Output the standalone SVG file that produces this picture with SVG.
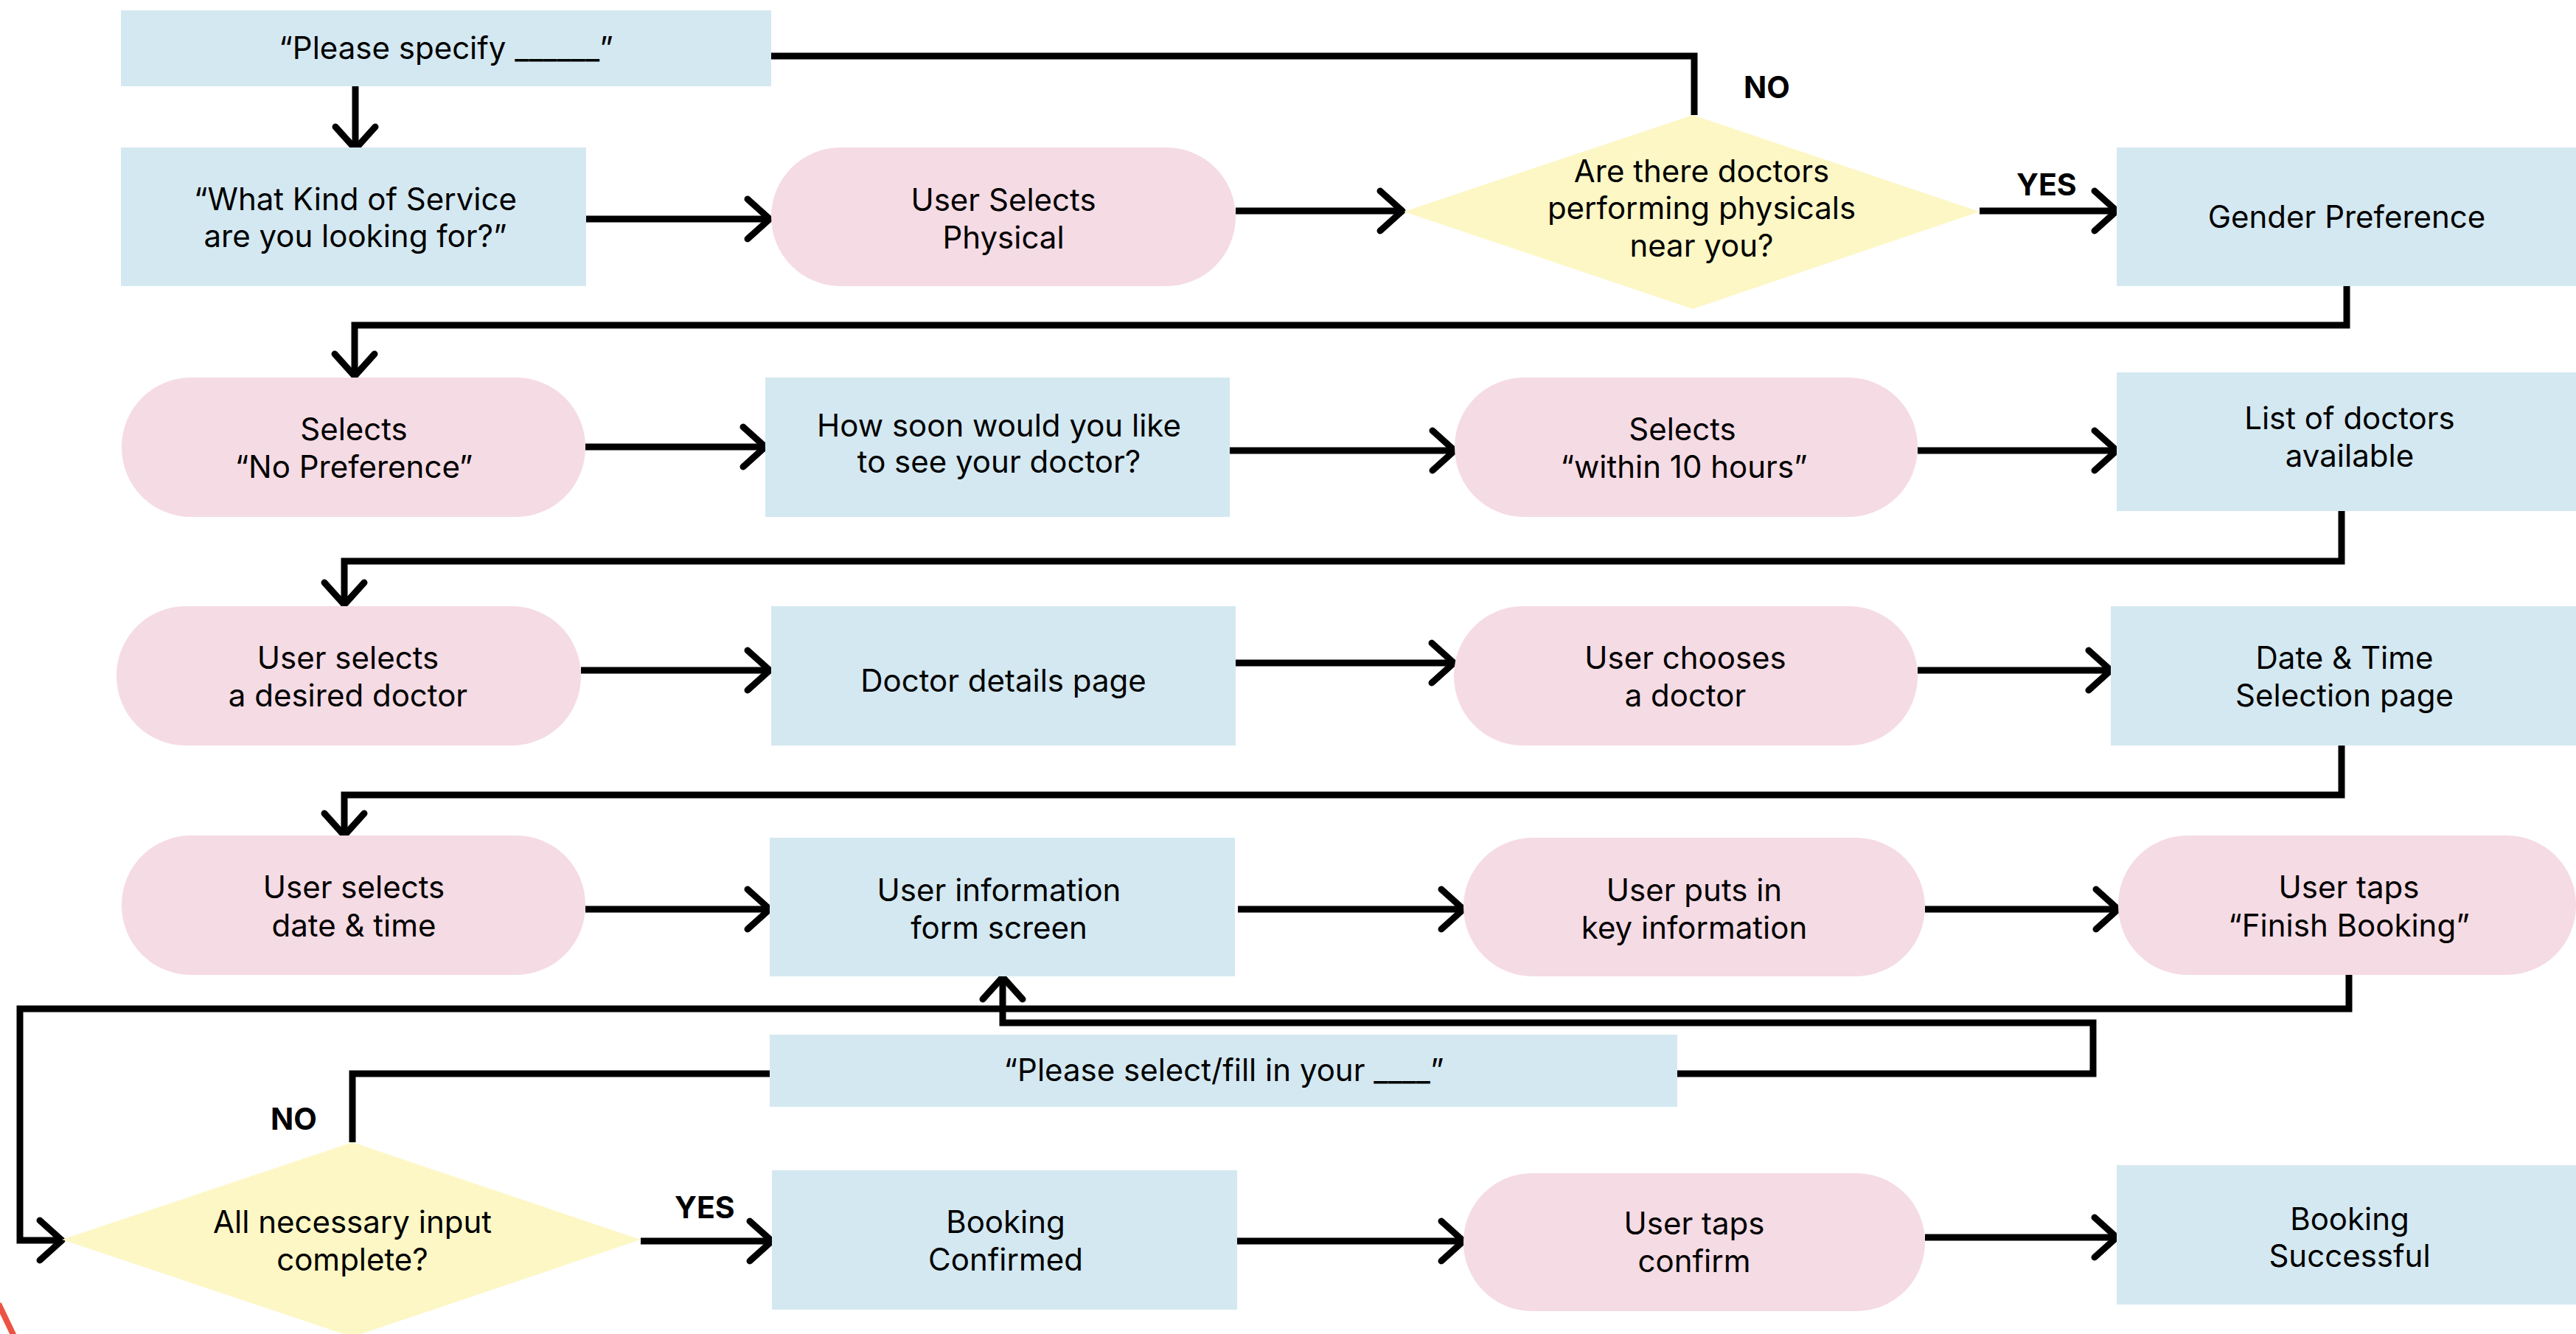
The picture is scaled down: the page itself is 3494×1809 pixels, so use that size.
<svg xmlns="http://www.w3.org/2000/svg" width="3494" height="1809" viewBox="0 0 3494 1809">
<defs>
<style>
.box{fill:#D4E8F1}
.pill{fill:#F5DBE4}
.dec{fill:#FCF7C5}
.t{font-family:Inter,"Liberation Sans",sans-serif;font-size:42px;fill:#000;text-anchor:middle}
.lbl{font-family:Inter,"Liberation Sans",sans-serif;font-size:41px;font-weight:700;fill:#000}
.c{fill:none;stroke:#000;stroke-width:9;stroke-linejoin:miter}
</style>
<marker id="ah" markerUnits="userSpaceOnUse" viewBox="-40 -40 50 80" markerWidth="50" markerHeight="80" refX="0" refY="0" orient="auto" overflow="visible">
<path d="M-30,-27 L0,0 L-30,27" fill="none" stroke="#000" stroke-width="9" stroke-linecap="round" stroke-linejoin="round"/>
</marker>
</defs>
<rect width="3494" height="1809" fill="#fff"/>

<g id="connectors">
<path class="c" d="M482,117 V202" marker-end="url(#ah)"/>
<path class="c" d="M2298,156 V76 H1046"/>
<path class="c" d="M795,297 H1044" marker-end="url(#ah)"/>
<path class="c" d="M1676,286 H1902" marker-end="url(#ah)"/>
<path class="c" d="M2685,286 H2871" marker-end="url(#ah)"/>
<path class="c" d="M3183,388 V441 H481 V510" marker-end="url(#ah)"/>
<path class="c" d="M794,606 H1038" marker-end="url(#ah)"/>
<path class="c" d="M1668,611 H1973" marker-end="url(#ah)"/>
<path class="c" d="M2601,611 H2871" marker-end="url(#ah)"/>
<path class="c" d="M3176,693 V761 H467 V820" marker-end="url(#ah)"/>
<path class="c" d="M788,909 H1044" marker-end="url(#ah)"/>
<path class="c" d="M1676,899 H1972" marker-end="url(#ah)"/>
<path class="c" d="M2601,909 H2863" marker-end="url(#ah)"/>
<path class="c" d="M3176,1011 V1078 H467 V1133" marker-end="url(#ah)"/>
<path class="c" d="M794,1233 H1044" marker-end="url(#ah)"/>
<path class="c" d="M1679,1233 H1985" marker-end="url(#ah)"/>
<path class="c" d="M2611,1233 H2873" marker-end="url(#ah)"/>
<path class="c" d="M3186,1322 V1368 H27 V1682 H84" marker-end="url(#ah)"/>
<path class="c" d="M478,1549 V1456 H1044"/>
<path class="c" d="M2275,1456 H2839 V1387 H1360 V1325" marker-end="url(#ah)"/>
<path class="c" d="M869,1683 H1047" marker-end="url(#ah)"/>
<path class="c" d="M1678,1683 H1985" marker-end="url(#ah)"/>
<path class="c" d="M2611,1678 H2871" marker-end="url(#ah)"/>
<text class="lbl" x="2365" y="133">NO</text>
<text class="lbl" x="2735" y="265">YES</text>
<text class="lbl" x="367" y="1532">NO</text>
<text class="lbl" x="915" y="1652">YES</text>
</g>

<g id="n-please-specify">
<rect class="box" x="164" y="14" width="882" height="103"/>
<text class="t" x="605" y="80">“Please specify ______”</text>
</g>
<g id="n-what-kind">
<rect class="box" x="164" y="200" width="631" height="188"/>
<text class="t" x="482" y="285">“What Kind of Service</text>
<text class="t" x="482" y="335">are you looking for?”</text>
</g>
<g id="n-user-selects-physical">
<rect class="pill" x="1046" y="200" width="630" height="188" rx="94" ry="94"/>
<text class="t" x="1361" y="286">User Selects</text>
<text class="t" x="1361" y="337">Physical</text>
</g>
<g id="n-doctors-near">
<polygon class="dec" points="2296,156 2685,287 2296,419 1904,287"/>
<text class="t" x="2308" y="247">Are there doctors</text>
<text class="t" x="2308" y="297">performing physicals</text>
<text class="t" x="2308" y="348">near you?</text>
</g>
<g id="n-gender">
<rect class="box" x="2871" y="200" width="623" height="188"/>
<text class="t" x="3183" y="309">Gender Preference</text>
</g>
<g id="n-no-pref">
<rect class="pill" x="165" y="512" width="629" height="189" rx="94" ry="94"/>
<text class="t" x="480" y="597">Selects</text>
<text class="t" x="480" y="648">“No Preference”</text>
</g>
<g id="n-how-soon">
<rect class="box" x="1038" y="512" width="630" height="189"/>
<text class="t" x="1355" y="592">How soon would you like</text>
<text class="t" x="1355" y="641">to see your doctor?</text>
</g>
<g id="n-within">
<rect class="pill" x="1973" y="512" width="628" height="189" rx="94" ry="94"/>
<text class="t" x="2282" y="597">Selects</text>
<text class="t" x="2284" y="648">“within 10 hours”</text>
</g>
<g id="n-list">
<rect class="box" x="2871" y="505" width="623" height="188"/>
<text class="t" x="3187" y="582">List of doctors</text>
<text class="t" x="3187" y="633">available</text>
</g>
<g id="n-desired">
<rect class="pill" x="158" y="822" width="630" height="189" rx="94" ry="94"/>
<text class="t" x="472" y="907">User selects</text>
<text class="t" x="472" y="958">a desired doctor</text>
</g>
<g id="n-details">
<rect class="box" x="1046" y="822" width="630" height="189"/>
<text class="t" x="1361" y="938">Doctor details page</text>
</g>
<g id="n-chooses">
<rect class="pill" x="1972" y="822" width="629" height="189" rx="94" ry="94"/>
<text class="t" x="2286" y="907">User chooses</text>
<text class="t" x="2286" y="958">a doctor</text>
</g>
<g id="n-datetime-page">
<rect class="box" x="2863" y="822" width="631" height="189"/>
<text class="t" x="3180" y="907">Date &amp; Time</text>
<text class="t" x="3180" y="958">Selection page</text>
</g>
<g id="n-select-datetime">
<rect class="pill" x="165" y="1133" width="629" height="189" rx="94" ry="94"/>
<text class="t" x="480" y="1218">User selects</text>
<text class="t" x="480" y="1270">date &amp; time</text>
</g>
<g id="n-user-info">
<rect class="box" x="1044" y="1136" width="631" height="188"/>
<text class="t" x="1355" y="1222">User information</text>
<text class="t" x="1355" y="1273">form screen</text>
</g>
<g id="n-puts-in">
<rect class="pill" x="1985" y="1136" width="626" height="188" rx="94" ry="94"/>
<text class="t" x="2298" y="1222">User puts in</text>
<text class="t" x="2298" y="1273">key information</text>
</g>
<g id="n-finish">
<rect class="pill" x="2873" y="1133" width="621" height="189" rx="94" ry="94"/>
<text class="t" x="3186" y="1218">User taps</text>
<text class="t" x="3186" y="1270">“Finish Booking”</text>
</g>
<g id="n-please-select">
<rect class="box" x="1044" y="1403" width="1231" height="98"/>
<text class="t" x="1660" y="1466">“Please select/fill in your ____”</text>
</g>
<g id="n-all-input">
<polygon class="dec" points="478,1549 869,1681 478,1813 84,1681"/>
<text class="t" x="478" y="1672">All necessary input</text>
<text class="t" x="478" y="1723">complete?</text>
</g>
<g id="n-confirmed">
<rect class="box" x="1047" y="1587" width="631" height="189"/>
<text class="t" x="1364" y="1672">Booking</text>
<text class="t" x="1364" y="1723">Confirmed</text>
</g>
<g id="n-taps-confirm">
<rect class="pill" x="1985" y="1591" width="626" height="187" rx="93" ry="93"/>
<text class="t" x="2298" y="1674">User taps</text>
<text class="t" x="2298" y="1725">confirm</text>
</g>
<g id="n-successful">
<rect class="box" x="2871" y="1580" width="623" height="189"/>
<text class="t" x="3187" y="1668">Booking</text>
<text class="t" x="3187" y="1718">Successful</text>
</g>
<line x1="-2" y1="1768" x2="19" y2="1812" stroke="#EC5343" stroke-width="8"/>
</svg>
